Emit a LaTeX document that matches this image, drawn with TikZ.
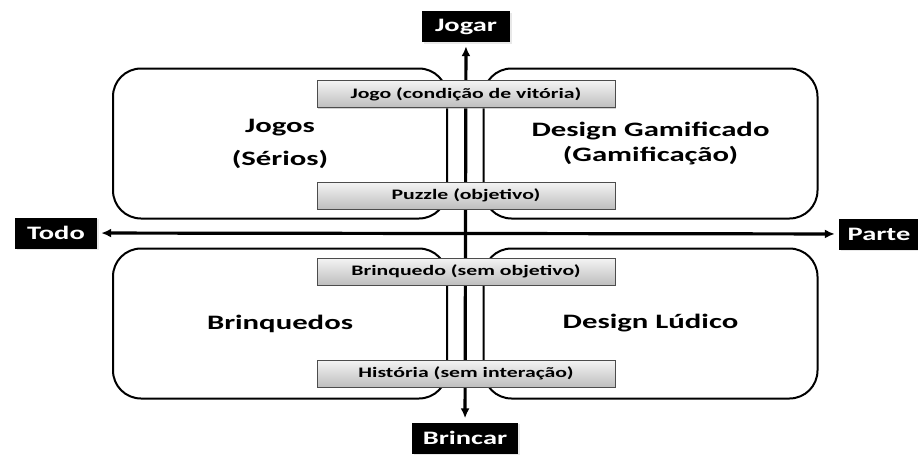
\documentclass[tikz,border=0pt]{standalone}
\usepackage{fontspec}
\setmainfont{Carlito}[FakeStretch=1.5]
\usetikzlibrary{arrows.meta,positioning,shadows}
\definecolor{tagtop}{HTML}{F4F4F4}
\definecolor{tagbottom}{HTML}{BEBEBE}
\tikzset{quadrant/.style={rectangle,draw,line width=2pt,rounded corners=28pt,minimum width=334pt,minimum height=150pt,align=center,font=\fontsize{20.5}{25}\selectfont\bfseries},tag/.style={rectangle,draw=black!70,line width=.8pt,top color=tagtop,bottom color=tagbottom,minimum width=298pt,minimum height=27pt,inner sep=0pt,font=\fontsize{14.5}{16}\selectfont\bfseries,drop shadow={shadow xshift=1.2pt,shadow yshift=-1.2pt,fill=black!35}},pole/.style={rectangle,fill=black,text=white,minimum height=31pt,inner sep=0pt,font=\fontsize{19}{22}\selectfont\bfseries,drop shadow={shadow xshift=1.5pt,shadow yshift=-1.5pt,fill=black!18}},axis/.style={{Latex[length=10pt,width=9pt]}-{Latex[length=10pt,width=9pt]},line width=3.2pt,shorten <=4pt,shorten >=4pt}}

\begin{document}
\begin{tikzpicture}[x=1pt,y=-1pt]
\useasboundingbox (0,0) rectangle (918,455);
\node[quadrant] (jogos) at (280,143.5) {Jogos\\[8pt](Sérios)};
\node[quadrant] (gamif) at (650.5,143.5) {Design Gamificado\\(Gamificação)};
\node[quadrant] (brinq) at (280,323.5) {Brinquedos};
\node[quadrant] (ludico) at (650.5,323.5) {Design Lúdico};
\node[pole,minimum width=88pt] (jogar) at (466,26.5) {Jogar};
\node[pole,minimum width=106pt] (brincar) at (465,438) {Brincar};
\node[pole,minimum width=82pt] (todo) at (56,233) {Todo};
\node[pole,minimum width=80pt] (parte) at (879,234) {Parte};
\draw[axis] (brincar) -- (jogar);
\draw[axis] (todo) -- (parte);
\node[tag] (jogo) at (466,94) {Jogo (condição de vitória)};
\node[tag] (puzzle) at (466,195.5) {Puzzle (objetivo)};
\node[tag] (brinquedo) at (466,271.5) {Brinquedo (sem objetivo)};
\node[tag] (historia) at (466,373.5) {História (sem interação)};
\end{tikzpicture}
\end{document}
